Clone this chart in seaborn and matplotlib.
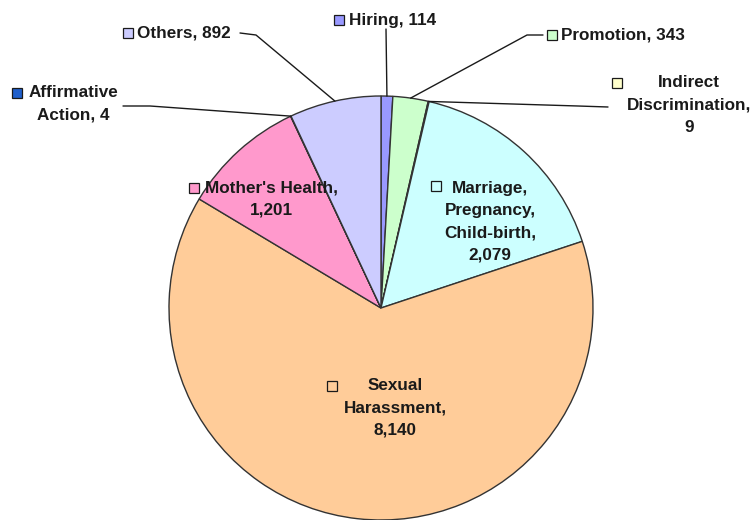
import numpy as np
import matplotlib.pyplot as plt
import seaborn as sns

# complaint categories, clockwise from 12 o'clock
categories = ['Hiring', 'Promotion', 'Indirect Discrimination',
              'Marriage, Pregnancy, Child-birth', 'Sexual Harassment',
              "Mother's Health", 'Affirmative Action', 'Others']
counts = [114, 343, 9, 2079, 8140, 1201, 4, 892]
label_text = ['Hiring, 114', 'Promotion, 343', 'Indirect\nDiscrimination,\n9',
              'Marriage,\nPregnancy,\nChild-birth,\n2,079', 'Sexual\nHarassment,\n8,140',
              "Mother's Health,\n1,201", 'Affirmative\nAction, 4', 'Others, 892']
colors = ['#9999FF', '#CCFFCC', '#FFFFCC', '#CCFFFF', '#FFCC99', '#FF99CC', '#1F5FCC', '#CCCCFF']

W, H = 753, 520
CX, CY, R = 381, 308, 212


def px(x, y):
    return (x - CX) / R, (CY - y) / R


# label layout in pixels: text anchor, alignment, key square position, leader elbow points
layout = {
    'Hiring': dict(xy=(349, 20), ha='left', key=(339, 20), lead=[(386, 29)]),
    'Promotion': dict(xy=(561, 35), ha='left', key=(552, 35), lead=[(543, 35), (527, 35)]),
    'Indirect Discrimination': dict(xy=(689, 105), ha='center', key=(617, 83), lead=[(608, 107), (578, 106)]),
    'Marriage, Pregnancy, Child-birth': dict(xy=(490, 222), ha='center', key=(436, 186), lead=None),
    'Sexual Harassment': dict(xy=(395, 408), ha='center', key=(332, 386), lead=None),
    "Mother's Health": dict(xy=(271, 199), ha='center', key=(194, 188), lead=None),
    'Affirmative Action': dict(xy=(73, 104), ha='center', key=(17, 93), lead=[(123, 106), (150, 106)]),
    'Others': dict(xy=(137, 33), ha='left', key=(128, 33), lead=[(240, 33), (256, 35)]),
}

sns.set_theme(style="white")
plt.rcParams['font.family'] = ['Liberation Sans', 'DejaVu Sans']

fig = plt.figure(figsize=(W / 100, H / 100), dpi=100)
ax = fig.add_axes([0, 0, 1, 1])

wedges, _ = ax.pie(counts, colors=colors, startangle=90, counterclock=False, radius=1,
                   wedgeprops=dict(edgecolor='#333333', linewidth=1.0))

for w, cat, txt, col in zip(wedges, categories, label_text, colors):
    lay = layout[cat]
    tx, ty = px(*lay['xy'])
    ax.text(tx, ty, txt, ha=lay['ha'], va='center', fontsize=12.3, fontweight='bold',
            color='#1a1a1a', linespacing=1.6, zorder=5)
    kx, ky = px(*lay['key'])
    ax.plot([kx], [ky], marker='s', markersize=7.5, markerfacecolor=col,
            markeredgecolor='#1a1a1a', markeredgewidth=0.9, zorder=6)
    if lay['lead']:
        mid = np.deg2rad((w.theta1 + w.theta2) / 2)
        anchor = (np.cos(mid), np.sin(mid))
        pts = [px(*p) for p in lay['lead']] + [anchor]
        xs, ys = zip(*pts)
        ax.plot(xs, ys, color='#1a1a1a', lw=1.0, zorder=4)

ax.set_xlim(-CX / R, (W - CX) / R)
ax.set_ylim(-(H - CY) / R, CY / R)
ax.set_aspect('equal')
ax.axis('off')

fig.savefig('out.png', dpi=100, facecolor='white')
